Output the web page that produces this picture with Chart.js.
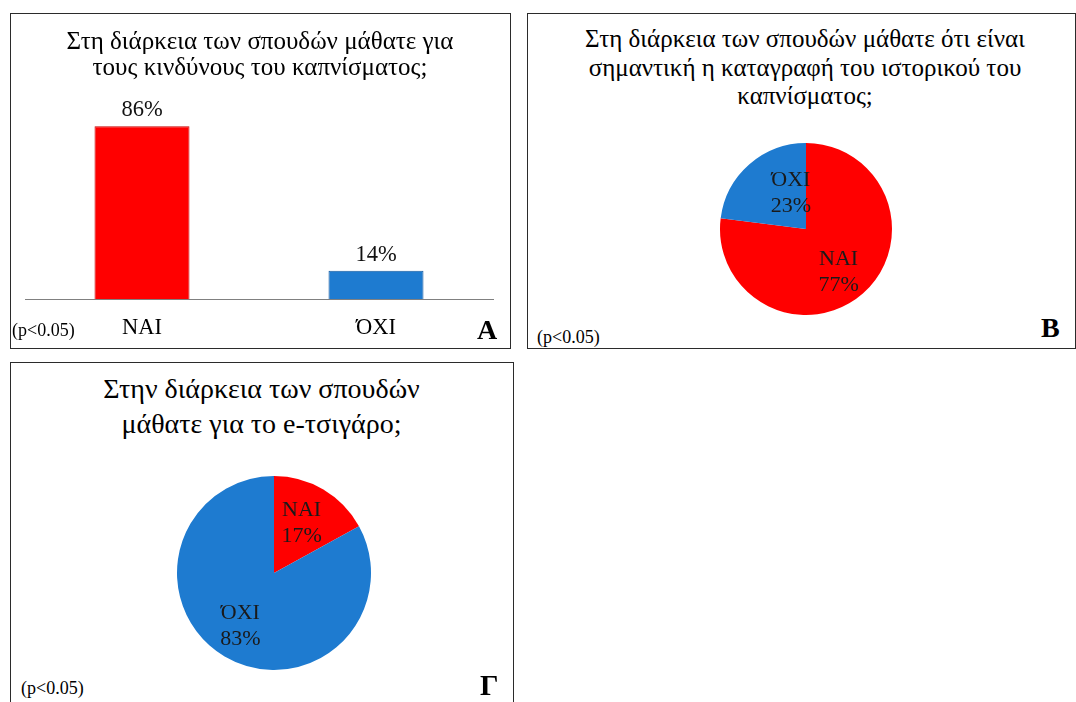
<!DOCTYPE html>
<html>
<head>
<meta charset="utf-8">
<script src="https://cdn.jsdelivr.net/npm/chart.js@4/dist/chart.umd.min.js"></script>
<style>
  html, body { margin:0; padding:0; background:#fff; width:1076px; height:702px; overflow:hidden; }
  .panel { position:absolute; border:1px solid #2b2b2b; box-sizing:border-box; }
  .txt { position:absolute; font-family:"Liberation Serif","Times New Roman",serif; color:#000; white-space:nowrap; }
  .title { text-align:center; }
  canvas { position:absolute; }
</style>
</head>
<body>
<div class="panel" style="left:10px;top:13px;width:501px;height:336px;"></div>
<div class="panel" style="left:527px;top:13px;width:549px;height:336px;"></div>
<div class="panel" style="left:10px;top:362px;width:504px;height:360px;"></div>

<canvas id="chartA" width="500" height="345" style="left:10px;top:13px;"></canvas>
<canvas id="chartB" width="200" height="200" style="left:706px;top:129px;"></canvas>
<canvas id="chartC" width="200" height="200" style="left:174px;top:473px;"></canvas>

<div class="txt title" id="titleA" style="left:10px;top:28px;width:500px;font-size:25px;line-height:26px;"></div>
<div class="txt title" id="titleB" style="left:527px;top:25px;width:556px;font-size:25px;line-height:28.5px;"></div>
<div class="txt title" id="titleC" style="left:10px;top:371px;width:503px;font-size:28px;line-height:35px;"></div>

<div class="txt" style="left:12px;top:319px;font-size:18px;line-height:22px;">(p&lt;0.05)</div>
<div class="txt" style="left:537px;top:326px;font-size:18px;line-height:22px;">(p&lt;0.05)</div>
<div class="txt" style="left:21px;top:677px;font-size:18px;line-height:22px;">(p&lt;0.05)</div>

<div class="txt" style="left:477px;top:314px;font-size:28px;line-height:32px;font-weight:bold;">A</div>
<div class="txt" style="left:1041px;top:312px;font-size:28px;line-height:32px;font-weight:bold;">B</div>
<div class="txt" style="left:480px;top:669px;font-size:29px;line-height:32px;font-weight:bold;">Γ</div>

<script>
// ---- data ----
const titleALines = ['Στη διάρκεια των σπουδών μάθατε για', 'τους κινδύνους του καπνίσματος;'];
const titleBLines = ['Στη διάρκεια των σπουδών μάθατε ότι είναι', 'σημαντική η καταγραφή  του ιστορικού του', 'καπνίσματος;'];
const titleCLines = ['Στην διάρκεια των σπουδών', 'μάθατε για το e-τσιγάρο;'];

const barCategories = ['NAI', 'ΌΧΙ'];
const barValues = [86, 14];

const pieBLabels = ['NAI', 'ΌΧΙ'];
const pieBValues = [77, 23];

const pieCLabels = ['NAI', 'ΌΧΙ'];
const pieCValues = [17, 83];

// ---- styles ----
const RED = '#FF0000';
const BLUE = '#1E7BD0';
const SERIF = '"Liberation Serif", "Times New Roman", serif';

document.getElementById('titleA').innerHTML = titleALines.join('<br>');
document.getElementById('titleB').innerHTML = titleBLines.join('<br>');
document.getElementById('titleC').innerHTML = titleCLines.join('<br>');

const valueLabels = {
  id: 'valueLabels',
  afterDatasetsDraw(chart, args, opts) {
    const ctx = chart.ctx;
    const ds = chart.data.datasets[0];
    const meta = chart.getDatasetMeta(0);
    ctx.save();
    ctx.font = opts.font;
    ctx.fillStyle = opts.color;
    ctx.textAlign = 'center';
    ctx.textBaseline = 'middle';
    meta.data.forEach((el, i) => {
      const v = ds.data[i] + '%';
      if (chart.config.type === 'bar') {
        ctx.fillText(v, el.x, el.y - opts.offset);
      } else {
        const p = el.getProps(['x', 'y', 'startAngle', 'endAngle', 'outerRadius'], true);
        const a = (p.startAngle + p.endAngle) / 2;
        const r = p.outerRadius * (opts.radii ? opts.radii[i] : 0.6);
        const nudge = opts.nudge ? opts.nudge[i] : [0, 0];
        const cx = p.x + Math.cos(a) * r + nudge[0];
        const cy = p.y + Math.sin(a) * r + nudge[1];
        ctx.fillText(chart.data.labels[i], cx, cy - opts.lineGap / 2);
        ctx.fillText(v, cx, cy + opts.lineGap / 2);
      }
    });
    ctx.restore();
  }
};

function pieConfig(labels, values, colors, radius, radii, nudge) {
  return {
    type: 'pie',
    data: {
      labels: labels,
      datasets: [{ data: values, backgroundColor: colors, borderWidth: 0 }]
    },
    options: {
      responsive: false,
      animation: false,
      radius: radius,
      layout: { padding: 0 },
      plugins: {
        legend: { display: false },
        tooltip: { enabled: false },
        valueLabels: { font: '22px ' + SERIF, color: '#1a1a1a', lineGap: 26, radii: radii, nudge: nudge }
      }
    },
    plugins: [valueLabels]
  };
}

function build() {
  new Chart(document.getElementById('chartA'), {
    type: 'bar',
    data: {
      labels: barCategories,
      datasets: [{
        data: barValues,
        backgroundColor: [RED, BLUE],
        borderColor: ['#C80000', '#145A9E'],
        borderWidth: 1,
        borderSkipped: 'bottom',
        barPercentage: 0.406,
        categoryPercentage: 1
      }]
    },
    options: {
      responsive: false,
      animation: false,
      layout: { padding: { left: 15, right: 17, top: 85, bottom: 0 } },
      plugins: {
        legend: { display: false },
        tooltip: { enabled: false },
        valueLabels: { font: '22.5px ' + SERIF, color: '#111', offset: 16 }
      },
      scales: {
        x: {
          grid: { display: false, drawTicks: false },
          border: { display: true, color: '#808080', width: 1 },
          ticks: { color: '#000', padding: 16, font: { family: SERIF, size: 22.5 } }
        },
        y: { display: false, min: 0, max: 100 }
      }
    },
    plugins: [valueLabels]
  });

  new Chart(document.getElementById('chartB'),
    pieConfig(pieBLabels, pieBValues, [RED, BLUE], 86, [0.59, 0.46], [[-1, 5], [11, -6]]));
  new Chart(document.getElementById('chartC'),
    pieConfig(pieCLabels, pieCValues, [RED, BLUE], 97, [0.6, 0.64], [[-2, 0], [-2, 0]]));
}

Promise.all([
  document.fonts.load('22px "Liberation Serif"', 'NAI ΌΧΙ 86% Στη'),
  document.fonts.load('bold 28px "Liberation Serif"', 'AB')
]).then(build, build);
</script>
</body>
</html>
